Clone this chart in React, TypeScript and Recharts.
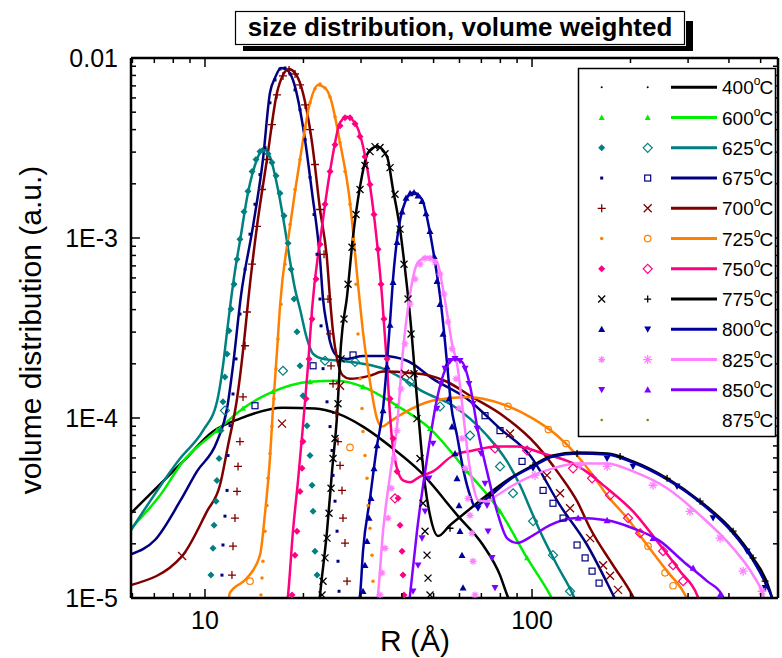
import React from "react";
import { ComposedChart, Line, Scatter, XAxis, YAxis, ReferenceLine } from "recharts";

// plot frame in page pixels
const W = 782;
const H = 658;
const LEFT = 131;
const TOP = 58;
const RIGHT = 778;
const BOTTOM = 598;
const Y_AXIS_W = 60;
const X_AXIS_H = 40;
const FONT = "'Liberation Sans', Arial, Helvetica, sans-serif";

const X_DOMAIN = [5.94, 565];
const Y_DOMAIN = [1e-5, 1e-2];
const xTicks = [6, 7, 8, 9, 10, 20, 30, 40, 50, 60, 70, 80, 90, 100, 200, 300, 400, 500];
const xLabels = [10, 100];
const yTicks = [
  1e-5, 2e-5, 3e-5, 4e-5, 5e-5, 6e-5, 7e-5, 8e-5, 9e-5,
  1e-4, 2e-4, 3e-4, 4e-4, 5e-4, 6e-4, 7e-4, 8e-4, 9e-4,
  1e-3, 2e-3, 3e-3, 4e-3, 5e-3, 6e-3, 7e-3, 8e-3, 9e-3, 1e-2,
];
const yLabels: Record<string, string> = { "0.01": "0.01", "0.001": "1E-3", "0.0001": "1E-4", "0.00001": "1E-5" };

// [R (Å), volume distribution]
const line400 = [[5.94,2.96e-5],[8.57,5.74e-5],[10.58,8.41e-5],[12.79,9.92e-5],[17.32,1.14e-4],[21.7,1.13e-4],[25.34,1.06e-4],[30.42,8.96e-5],[37.58,6.77e-5],[45.44,5.05e-5],[59.4,2.85e-5],[70.8,1.97e-5],[79.8,1.34e-5],[83.9,1.04e-5],[87.5,8.8e-6]];

const line600 = [[5.94,2.44e-5],[7.29,3.72e-5],[8.57,5.74e-5],[10.88,8.51e-5],[13.07,1.13e-4],[16.14,1.4e-4],[20.95,1.59e-4],[25.34,1.61e-4],[30.42,1.49e-4],[38.66,1.17e-4],[48.76,8.73e-5],[63.27,5.05e-5],[79.82,3.03e-5],[96.54,1.67e-5],[113.5,1.04e-5],[117.6,9.2e-6]];
const mark600 = [[10.88,8.51e-5],[13.07,1.13e-4],[16.14,1.4e-4],[20.95,1.59e-4],[30.42,1.49e-4],[38.66,1.17e-4],[48.76,8.73e-5],[63.27,5.05e-5],[79.82,3.03e-5],[96.54,1.67e-5]];

const line625 = [[5.94,2.38e-5],[8.39,5.96e-5],[9.86,8.51e-5],[10.88,1.23e-4],[11.35,1.95e-4],[11.68,3.01e-4],[11.93,4.13e-4],[12.35,6.55e-4],[12.79,9.59e-4],[13.54,1.79e-3],[14.42,2.73e-3],[15.04,3.14e-3],[15.8,2.83e-3],[16.72,1.86e-3],[17.57,1.12e-3],[18.2,7.43e-4],[18.85,5.2e-4],[19.52,4.03e-4],[20.51,2.75e-4],[21.4,2.27e-4],[22.96,2.13e-4],[25.88,2.08e-4],[30.42,2e-4],[35.03,1.88e-4],[40.32,1.65e-4],[46.42,1.4e-4],[57.34,1.17e-4],[72.84,7.99e-5],[83.85,5.74e-5],[91.9,4.23e-5],[100.7,2.88e-5],[105.8,2.35e-5],[119.3,1.52e-5],[133.5,1.04e-5],[137.3,9.2e-6]];
const narrow625 = [[10.43,1.34e-5],[10.58,1.89e-5],[10.66,2.54e-5],[10.81,3.45e-5],[10.88,4.5e-5],[11.04,5.96e-5],[11.19,8.51e-5],[11.35,1.23e-4],[11.51,1.69e-4],[11.68,2.27e-4],[11.84,3.05e-4],[12.01,4.03e-4],[12.27,5.54e-4],[12.53,7.62e-4],[12.79,9.83e-4],[13.16,1.4e-3],[13.54,1.82e-3],[13.93,2.34e-3],[14.32,2.73e-3],[14.73,3.02e-3],[15.15,3.1e-3],[15.58,2.94e-3],[16.02,2.63e-3],[16.49,2.22e-3],[16.96,1.77e-3],[17.44,1.33e-3],[17.95,9.35e-4],[18.33,6.71e-4],[18.72,4.58e-4],[19.11,3.01e-4],[19.52,1.95e-4],[19.94,1.33e-4],[20.51,9.07e-5],[20.95,6.19e-5],[21.25,4.23e-5],[21.4,3.03e-5],[21.7,1.82e-5],[22.01,1.34e-5]];
const broad625 = [[11.51,1.1e-4],[17.32,1.83e-4],[23.28,2.08e-4],[28.76,2.05e-4],[42.36,1.59e-4],[52.32,1.16e-4],[64.62,7.99e-5],[79.82,5.38e-5],[87.48,3.82e-5],[100.7,2.67e-5],[115.9,1.73e-5],[130.7,1.09e-5]];

const line675 = [[5.94,1.75e-5],[7.03,2.1e-5],[8.39,3.45e-5],[9.45,5.05e-5],[10.88,7.4e-5],[11.68,1.13e-4],[12.18,1.95e-4],[12.88,4.76e-4],[14.02,1.16e-3],[15.04,2.73e-3],[15.8,6.4e-3],[16.37,7.75e-3],[17.08,8.8e-3],[17.82,8.58e-3],[18.58,7.55e-3],[19.94,4.15e-3],[21.25,1.79e-3],[22.48,7.62e-4],[22.96,4.58e-4],[23.61,3.25e-4],[24.12,2.65e-4],[25.34,2.21e-4],[27.19,2.13e-4],[30.42,2.21e-4],[35.03,2.21e-4],[41.47,2.08e-4],[49.8,1.65e-4],[63.27,1.28e-4],[79.82,8.73e-5],[98.6,6.19e-5],[121.8,3.27e-5],[147.4,1.97e-5],[176.9,1.04e-5],[181.9,9.4e-6]];
const narrow675 = [[11.27,1.34e-5],[11.35,1.97e-5],[11.51,2.85e-5],[11.68,3.96e-5],[11.76,6.19e-5],[11.93,9.07e-5],[12.18,1.36e-4],[12.44,2.13e-4],[12.79,3.78e-4],[13.26,6.71e-4],[13.73,1.05e-3],[14.22,1.54e-3],[14.73,2.25e-3],[15.26,3.18e-3],[15.8,5.64e-3],[16.37,7.55e-3],[16.96,8.69e-3],[17.57,8.8e-3],[18.2,8.15e-3],[18.85,6.65e-3],[19.52,5.16e-3],[20.23,3.52e-3],[20.95,2.17e-3],[21.55,1.35e-3],[22.01,8.12e-4],[22.48,4.58e-4],[22.64,3.25e-4],[22.96,1.88e-4],[23.61,1.23e-4],[24.12,8.96e-5],[24.46,6.6e-5],[24.63,4.8e-5],[24.98,3.45e-5],[25.34,2.35e-5],[25.51,1.6e-5],[25.7,1.09e-5]];
const broad675 = [[14.22,1.17e-4],[21.4,1.95e-4],[28.36,2.24e-4],[71.82,1.03e-4],[79.82,8.51e-5],[93.2,5.74e-5],[108.1,3.96e-5],[115.9,3.36e-5],[124.4,2.78e-5],[137.3,1.97e-5],[145.3,1.67e-5],[152.6,1.41e-5],[160.3,1.21e-5]];

const line700 = [[5.94,1.18e-5],[8.51,1.71e-5],[10.14,3.03e-5],[11.11,4.23e-5],[11.76,7.03e-5],[12.53,1.28e-4],[13.26,3.01e-4],[13.54,4.4e-4],[14.42,1.16e-3],[15.47,2.73e-3],[16.6,6.4e-3],[17.32,8.05e-3],[18.07,8.69e-3],[18.85,8.25e-3],[19.52,7.27e-3],[21.25,3.38e-3],[22.48,1.44e-3],[23.61,7.62e-4],[24.12,4.58e-4],[24.63,3.01e-4],[25.34,2.13e-4],[26.42,1.72e-4],[27.76,1.65e-4],[31.96,1.72e-4],[35.03,1.81e-4],[42.36,1.78e-4],[48.76,1.72e-4],[54.97,1.59e-4],[64.62,1.33e-4],[81.53,1.03e-4],[103.6,7.03e-5],[121.8,4.8e-5],[137.3,3.45e-5],[150.5,2.44e-5],[176.9,1.52e-5],[202.2,1.04e-5],[208,9.4e-6]];
const narrow700 = [[12.09,1.34e-5],[12.18,1.94e-5],[12.35,2.78e-5],[12.53,3.91e-5],[12.62,5.38e-5],[12.79,7.4e-5],[13.07,1.31e-4],[13.26,2.52e-4],[13.44,3.88e-4],[13.93,7.15e-4],[14.42,1.16e-3],[14.94,1.86e-3],[15.47,2.73e-3],[16.02,4.26e-3],[16.6,6.24e-3],[17.32,7.95e-3],[18.07,8.58e-3],[18.85,8.15e-3],[19.52,7.09e-3],[20.23,5.49e-3],[20.95,4e-3],[21.7,2.56e-3],[22.48,1.44e-3],[23.12,8.12e-4],[23.78,4.58e-4],[24.12,2.93e-4],[24.29,1.95e-4],[24.63,1.55e-4],[25.16,1.06e-4],[25.51,7.4e-5],[25.88,5.45e-5],[26.24,3.96e-5],[26.42,2.78e-5],[26.8,2.02e-5],[27.19,1.24e-5]];
const broad700 = [[8.51,1.71e-5],[17.2,9.31e-5],[25.88,1.51e-4],[40.89,1.76e-4],[85.65,8.2e-5],[111.1,4.8e-5],[121.8,3.82e-5],[130.7,3.15e-5],[150.5,2.15e-5],[164.9,1.52e-5],[173.2,1.33e-5],[183.2,1.11e-5]];

const line725 = [[11.76,9.4e-6],[11.93,1.07e-5],[13.44,1.29e-5],[14.73,1.73e-5],[15.26,2.96e-5],[15.8,5.96e-5],[16.14,1.13e-4],[16.6,2.33e-4],[16.96,4.19e-4],[18.2,1.16e-3],[19.52,2.73e-3],[20.95,5.64e-3],[22.16,7.09e-3],[23.28,6.82e-3],[24.12,6.08e-3],[25.88,3.38e-3],[27.76,1.58e-3],[29.37,5.54e-4],[30.42,3.01e-4],[31.96,1.59e-4],[33.57,9.92e-5],[34.78,8.96e-5],[36.8,9.55e-5],[40.32,1.06e-4],[49.8,1.25e-4],[63.27,1.31e-4],[70.82,1.28e-4],[83.85,1.17e-4],[100.7,9.92e-5],[119.3,7.99e-5],[137.3,6.19e-5],[153.7,4.8e-5],[169.6,3.72e-5],[195.3,2.78e-5],[224.8,1.97e-5],[258.8,1.41e-5],[289.6,1.09e-5],[300,9.7e-6]];
const narrow725 = [[14.83,1.04e-5],[14.94,1.29e-5],[15.04,1.6e-5],[15.26,2.35e-5],[15.47,3.27e-5],[15.58,4.62e-5],[15.8,6.35e-5],[16.02,8.96e-5],[16.25,1.28e-4],[16.49,1.88e-4],[16.72,2.75e-4],[17.08,4.29e-4],[17.57,7.15e-4],[18.2,1.19e-3],[18.85,1.86e-3],[19.52,2.73e-3],[20.23,4.1e-3],[20.95,5.64e-3],[21.7,6.74e-3],[22.48,7.18e-3],[23.28,6.82e-3],[24.12,6.08e-3],[24.98,4.72e-3],[25.88,3.38e-3],[26.8,2.34e-3],[27.76,1.54e-3],[28.36,9.83e-4],[28.96,5.54e-4],[29.37,2.93e-4],[29.79,1.65e-4],[30.21,1.13e-4],[30.42,8.41e-5],[30.85,6.19e-5],[31.29,4.62e-5],[31.51,3.27e-5],[31.96,2.44e-5],[32.41,1.73e-5],[32.64,1.24e-5]];
const broad725 = [[13.73,1.24e-5],[27.76,6.86e-5],[84.45,1.16e-4],[112.2,8.62e-5],[127.1,7.21e-5],[226.3,1.94e-5],[255.1,1.38e-5],[269.9,1.17e-5]];

const line750 = [[17.82,9.2e-6],[17.95,1.04e-5],[18.58,2.35e-5],[19.24,4.45e-5],[19.94,9.07e-5],[20.65,1.95e-4],[21.25,4.03e-4],[22.8,1.16e-3],[24.46,2.73e-3],[25.88,4.37e-3],[27.19,4.72e-3],[29.16,4.15e-3],[31.29,2.49e-3],[33.57,9.47e-4],[34.78,4.76e-4],[36.03,1.95e-4],[36.8,1.03e-4],[37.58,6.77e-5],[38.66,5.25e-5],[40.32,4.5e-5],[42.36,4.39e-5],[45.44,4.73e-5],[49.8,5.05e-5],[57.34,6.19e-5],[66,6.6e-5],[78.16,6.94e-5],[89.98,6.94e-5],[108.1,6.35e-5],[137.3,5.45e-5],[169.6,4.07e-5],[203.6,3.03e-5],[246.3,1.97e-5],[283.5,1.41e-5],[319.6,1.04e-5],[326.4,9.4e-6]];
const narrow750 = [[18.46,1.04e-5],[18.85,1.73e-5],[19.11,2.35e-5],[19.52,3.91e-5],[19.8,5.25e-5],[19.94,7.4e-5],[20.37,1.28e-4],[20.8,2.13e-4],[21.25,3.55e-4],[21.86,5.91e-4],[22.48,9.23e-4],[23.28,1.54e-3],[24.12,2.34e-3],[24.98,3.3e-3],[25.88,4.2e-3],[26.8,4.66e-3],[27.76,4.66e-3],[28.76,4.31e-3],[29.79,3.66e-3],[30.85,2.83e-3],[31.96,1.98e-3],[32.87,1.35e-3],[33.81,8.66e-4],[34.54,5.54e-4],[35.27,3.55e-4],[36.03,2.13e-4],[36.8,1.28e-4],[37.58,7.69e-5],[38.66,5.05e-5],[38.93,3.58e-5],[39.48,2.54e-5],[40.04,1.82e-5],[40.32,1.34e-5],[40.6,1.04e-5]];
const broad750 = [[38.11,3.58e-5],[77.06,6.77e-5],[96.54,6.6e-5],[133.5,5.25e-5],[152.6,4.62e-5],[173.2,3.72e-5],[196.6,2.78e-5],[214,2.29e-5],[251.6,1.82e-5],[269.9,1.52e-5],[289.6,1.24e-5]];

const line775 = [[22.32,9.1e-6],[22.48,1.04e-5],[23.61,2.35e-5],[24.46,5.05e-5],[25.34,1.03e-4],[26.06,2.58e-4],[27.19,4.76e-4],[28.36,1.02e-3],[29.79,1.93e-3],[31.51,2.98e-3],[33.57,3.22e-3],[36.03,2.83e-3],[37.58,1.86e-3],[39.48,1.12e-3],[40.89,6.71e-4],[42.36,3.69e-4],[44.49,1.28e-4],[47.08,4.23e-5],[48.76,2.88e-5],[51.59,2.21e-5],[56.14,2.54e-5],[63.27,3.03e-5],[70.82,3.58e-5],[85.65,4.62e-5],[100.7,5.45e-5],[115.9,6.19e-5],[137.3,6.43e-5],[169.6,6.35e-5],[203.6,5.74e-5],[258.8,4.62e-5],[326.4,3.45e-5],[411.9,2.35e-5],[474.1,1.67e-5],[534.4,1.09e-5],[546,9.4e-6]];
const narrow775 = [[22.8,1.04e-5],[22.96,1.24e-5],[23.28,1.67e-5],[23.61,2.15e-5],[23.95,2.96e-5],[24.29,4.07e-5],[24.63,5.96e-5],[24.98,7.69e-5],[25.51,1.2e-4],[26.06,2.13e-4],[26.61,3.55e-4],[27.38,5.54e-4],[28.16,8.89e-4],[28.96,1.35e-3],[29.79,1.86e-3],[30.85,2.53e-3],[31.96,3.02e-3],[33.1,3.22e-3],[34.29,3.18e-3],[35.52,2.94e-3],[36.8,2.46e-3],[38.11,1.75e-3],[39.48,1.12e-3],[40.6,7.15e-4],[41.77,4.58e-4],[42.66,2.93e-4],[43.57,1.76e-4],[44.49,9.92e-5],[45.44,5.96e-5],[46.42,3.36e-5],[47.08,2.35e-5],[47.75,1.73e-5],[48.08,1.29e-5],[48.76,1.04e-5]];
const broad775 = [[56.14,2.44e-5],[74.4,3.72e-5],[100.7,5.45e-5],[137.3,6.35e-5],[185.9,6.11e-5],[258.8,4.62e-5],[326.4,3.45e-5],[411.9,2.35e-5],[474.1,1.67e-5],[515.9,1.24e-5]];

const line800 = [[29.37,9.4e-6],[29.79,1.04e-5],[30.42,1.82e-5],[31.96,3.58e-5],[33.57,7.03e-5],[35.03,1.13e-4],[36.03,2.05e-4],[36.8,3.42e-4],[37.58,5.91e-4],[38.66,9.83e-4],[40.89,1.58e-3],[43.26,1.79e-3],[46.09,1.64e-3],[48.08,1.22e-3],[50.51,7.34e-4],[52.32,4.76e-4],[54.19,2.65e-4],[55.35,1.76e-4],[56.5,1.2e-4],[58.97,7.99e-5],[61.52,5.25e-5],[64.62,3.72e-5],[66.94,3.23e-5],[72.84,3.58e-5],[85.65,4.56e-5],[100.7,5.38e-5],[115.9,6.11e-5],[137.3,6.35e-5],[169.6,6.27e-5],[203.6,5.66e-5],[258.8,4.56e-5],[326.4,3.4e-5],[411.9,2.29e-5],[474.1,1.62e-5],[534.4,1.07e-5],[553.6,9.2e-6]];
const narrow800 = [[30.42,1.09e-5],[30.85,1.52e-5],[31.29,2.07e-5],[31.74,2.78e-5],[32.19,3.58e-5],[32.87,5.25e-5],[33.57,7.03e-5],[35.03,1.1e-4],[36.03,1.93e-4],[36.8,3.29e-4],[37.58,5.69e-4],[38.66,9.47e-4],[40.04,1.4e-3],[41.18,1.67e-3],[42.36,1.77e-3],[43.57,1.79e-3],[44.81,1.72e-3],[46.09,1.6e-3],[47.41,1.37e-3],[48.76,1.09e-3],[50.16,7.92e-4],[51.23,5.76e-4],[52.32,4.29e-4],[53.43,2.93e-4],[54.58,1.93e-4],[55.74,1.28e-4],[56.94,8.96e-5],[58.15,6.35e-5],[58.97,4.62e-5],[59.81,3.27e-5],[60.23,2.35e-5],[61.08,1.73e-5],[61.52,1.14e-5]];
const broad800 = [[68.37,3.15e-5],[100.7,5.25e-5],[169.6,5.96e-5],[203.6,5.38e-5],[277.5,4.17e-5],[357.7,2.78e-5],[454.5,1.82e-5],[515.9,1.14e-5]];

const line825 = [[33.57,9.2e-6],[33.81,1.04e-5],[35.03,2.35e-5],[36.8,4.8e-5],[38.66,9.07e-5],[40.32,2.37e-4],[42.36,4.88e-4],[44.81,7.34e-4],[47.75,7.82e-4],[51.23,7.34e-4],[53.43,5.2e-4],[55.35,3.55e-4],[56.94,2.58e-4],[58.97,2e-4],[61.52,1.08e-4],[63.72,6.19e-5],[66,4.23e-5],[68.37,3.49e-5],[72.84,3.45e-5],[78.16,3.72e-5],[87.48,4.23e-5],[100.7,4.8e-5],[115.9,5.25e-5],[137.3,5.59e-5],[169.6,5.59e-5],[203.6,5.05e-5],[258.8,4.07e-5],[326.4,2.88e-5],[411.9,1.89e-5],[474.1,1.34e-5],[508.6,1.04e-5],[515.9,9.4e-6]];
const narrow825 = [[34.29,1.04e-5],[34.78,1.38e-5],[35.52,1.89e-5],[36.29,2.78e-5],[37.06,4.07e-5],[37.84,5.96e-5],[38.66,8.51e-5],[39.76,1.45e-4],[40.89,2.58e-4],[42.36,4.29e-4],[43.88,5.91e-4],[45.44,7.15e-4],[47.08,7.72e-4],[48.76,7.72e-4],[50.51,7.34e-4],[52.32,6.3e-4],[53.8,4.88e-4],[55.35,3.42e-4],[56.94,2.42e-4],[58.56,1.65e-4],[59.81,1.13e-4],[61.08,7.69e-5],[62.39,5.25e-5],[63.72,3.58e-5],[64.62,2.88e-5],[65.53,2.29e-5],[66,1.6e-5],[66.94,1.04e-5]];
const broad825 = [[102.1,4.8e-5],[140.3,5.45e-5],[169.6,5.38e-5],[234.4,4.23e-5],[304.2,3.03e-5],[375.8,2.15e-5],[441.9,1.41e-5],[505.1,1.09e-5]];

const line850 = [[42.07,9.2e-6],[42.36,1.04e-5],[44.49,2.35e-5],[47.75,5.96e-5],[51.23,1.28e-4],[54.97,1.95e-4],[58.15,2.13e-4],[61.08,2.05e-4],[64.62,1.51e-4],[68.37,8.41e-5],[72.84,5.05e-5],[78.16,3.03e-5],[83.85,2.15e-5],[89.98,2.02e-5],[100.7,2.23e-5],[113.5,2.54e-5],[137.3,2.78e-5],[169.6,2.7e-5],[203.6,2.44e-5],[246.3,2.07e-5],[289.6,1.6e-5],[343,1.24e-5],[381.1,1.04e-5],[389.2,9.4e-6]];
const narrow850 = [[43.26,1.09e-5],[44.81,1.52e-5],[46.09,2.15e-5],[47.08,3.03e-5],[48.42,4.62e-5],[49.8,7.21e-5],[51.23,1.13e-4],[52.69,1.55e-4],[54.19,1.88e-4],[56.14,2.08e-4],[58.15,2.13e-4],[60.23,2.08e-4],[62.39,1.88e-4],[64.17,1.55e-4],[66,1.2e-4],[67.89,8.73e-5],[69.83,6.35e-5],[71.82,4.33e-5],[72.84,3.27e-5],[73.35,2.35e-5],[75.45,1.67e-5],[77.06,1.14e-5]];
const broad850 = [[138.3,2.78e-5],[169.6,2.7e-5],[234.4,2.15e-5],[310.8,1.47e-5],[375.8,1.04e-5]];

type Kind = "dot" | "diamond" | "diamondOpen" | "square" | "squareOpen" | "plus" | "cross" | "circleOpen" | "triUp" | "triDown" | "star";

interface Series {
  t: string;
  c: string;
  line: number[][] | null;
  a: number[][] | null;
  b: number[][] | null;
  ka: Kind;
  sa: number;
  kb: Kind;
  sb: number;
}

const SERIES: Series[] = [
  { t: "400", c: "#000000", line: line400, a: null, b: null, ka: "dot", sa: 2, kb: "dot", sb: 2 },
  { t: "600", c: "#00ee00", line: line600, a: mark600, b: null, ka: "triUp", sa: 6, kb: "triUp", sb: 6 },
  { t: "625", c: "#008080", line: line625, a: narrow625, b: broad625, ka: "diamond", sa: 7, kb: "diamondOpen", sb: 9 },
  { t: "675", c: "#000080", line: line675, a: narrow675, b: broad675, ka: "square", sa: 3, kb: "squareOpen", sb: 6 },
  { t: "700", c: "#800000", line: line700, a: narrow700, b: broad700, ka: "plus", sa: 8, kb: "cross", sb: 8 },
  { t: "725", c: "#ff8000", line: line725, a: narrow725, b: broad725, ka: "dot", sa: 3.5, kb: "circleOpen", sb: 6.5 },
  { t: "750", c: "#ff0080", line: line750, a: narrow750, b: broad750, ka: "diamond", sa: 7, kb: "diamondOpen", sb: 9 },
  { t: "775", c: "#000000", line: line775, a: narrow775, b: broad775, ka: "cross", sa: 7, kb: "plus", sb: 7 },
  { t: "800", c: "#0000a0", line: line800, a: narrow800, b: broad800, ka: "triUp", sa: 7, kb: "triDown", sb: 7 },
  { t: "825", c: "#ff80ff", line: line825, a: narrow825, b: broad825, ka: "star", sa: 7, kb: "star", sb: 9 },
  { t: "850", c: "#8000ff", line: line850, a: narrow850, b: broad850, ka: "triDown", sa: 7, kb: "triUp", sb: 7 },
  { t: "875", c: "#808000", line: null, a: null, b: null, ka: "dot", sa: 2.5, kb: "dot", sb: 2.5 },
];

const pts = (a: number[][]) => a.map(([r, v]) => ({ r, v }));

function Mark({ kind, x, y, c, s }: { kind: Kind; x: number; y: number; c: string; s: number }) {
  if (x == null || y == null) return null;
  const h = s / 2;
  switch (kind) {
    case "dot":
      return <circle cx={x} cy={y} r={h} fill={c} />;
    case "diamond":
      return <polygon points={`${x},${y - h} ${x + h},${y} ${x},${y + h} ${x - h},${y}`} fill={c} />;
    case "diamondOpen":
      return <polygon points={`${x},${y - h} ${x + h},${y} ${x},${y + h} ${x - h},${y}`} fill="none" stroke={c} strokeWidth={1.2} />;
    case "square":
      return <rect x={x - h} y={y - h} width={s} height={s} fill={c} />;
    case "squareOpen":
      return <rect x={x - h} y={y - h} width={s} height={s} fill="none" stroke={c} strokeWidth={1.2} />;
    case "circleOpen":
      return <circle cx={x} cy={y} r={h} fill="none" stroke={c} strokeWidth={1.2} />;
    case "plus":
      return <path d={`M${x - h},${y}H${x + h}M${x},${y - h}V${y + h}`} stroke={c} strokeWidth={1.3} />;
    case "cross":
      return <path d={`M${x - h},${y - h}L${x + h},${y + h}M${x - h},${y + h}L${x + h},${y - h}`} stroke={c} strokeWidth={1.3} />;
    case "triUp":
      return <polygon points={`${x},${y - h} ${x + h},${y + h * 0.8} ${x - h},${y + h * 0.8}`} fill={c} />;
    case "triDown":
      return <polygon points={`${x},${y + h} ${x + h},${y - h * 0.8} ${x - h},${y - h * 0.8}`} fill={c} />;
    case "star":
      return (
        <path
          d={`M${x - h},${y}H${x + h}M${x},${y - h}V${y + h}M${x - h * 0.7},${y - h * 0.7}L${x + h * 0.7},${y + h * 0.7}M${x - h * 0.7},${y + h * 0.7}L${x + h * 0.7},${y - h * 0.7}`}
          stroke={c}
          strokeWidth={1.3}
        />
      );
    default:
      return null;
  }
}

// bottom axis tick, mirrored onto the top edge; ticks point inwards
const XTick = (p: any) => {
  const { x, payload } = p;
  const v = payload.value;
  const major = xLabels.includes(v);
  const len = major ? 9 : 5;
  return (
    <g>
      <line x1={x} x2={x} y1={BOTTOM} y2={BOTTOM - len} stroke="#000" strokeWidth={1.5} />
      <line x1={x} x2={x} y1={TOP} y2={TOP + len} stroke="#000" strokeWidth={1.5} />
      {major && (
        <text x={x} y={BOTTOM + 31} textAnchor="middle" fontSize={25} fontFamily={FONT} fill="#000">
          {v}
        </text>
      )}
    </g>
  );
};

// left axis tick, mirrored onto the right edge
const YTick = (p: any) => {
  const { y, payload } = p;
  const lab = yLabels[String(payload.value)];
  const len = lab ? 9 : 5;
  return (
    <g>
      <line x1={LEFT} x2={LEFT + len} y1={y} y2={y} stroke="#000" strokeWidth={1.5} />
      <line x1={RIGHT} x2={RIGHT - len} y1={y} y2={y} stroke="#000" strokeWidth={1.5} />
      {lab && (
        <text x={LEFT - 13} y={y + 9} textAnchor="end" fontSize={25} fontFamily={FONT} fill="#000">
          {lab}
        </text>
      )}
    </g>
  );
};

function Overlay() {
  const rowY = (i: number) => 87.3 + i * 30.25;
  return (
    <svg width={W} height={H} style={{ position: "absolute", left: 0, top: 0, pointerEvents: "none" }}>
      {/* title box with offset shadow */}
      <rect x={243} y={21} width={450} height={30} fill="#000" />
      <rect x={233} y={9} width={453} height={37} fill="#fff" />
      <rect x={235.5} y={11.5} width={449} height={33} fill="#fff" stroke="#000" strokeWidth={1.2} />
      <text x={460} y={36} textAnchor="middle" fontSize={26} fontWeight="bold" fontFamily={FONT} fill="#000">
        size distribution, volume weighted
      </text>

      {/* axis titles */}
      <text x={415} y={651} textAnchor="middle" fontSize={30} fontFamily={FONT} fill="#000">
        R (Å)
      </text>
      <text x={41} y={330} textAnchor="middle" fontSize={30} fontFamily={FONT} fill="#000" transform="rotate(-90 41 330)">
        volume distribution (a.u.)
      </text>

      {/* legend */}
      <rect x={578.5} y={68.5} width={197} height={368} fill="#fff" stroke="#000" strokeWidth={1.5} />
      {SERIES.map((s, i) => {
        const y = rowY(i);
        return (
          <g key={s.t}>
            <Mark kind={s.ka} x={601.7} y={y} c={s.c} s={s.sa} />
            <Mark kind={s.kb} x={647.7} y={y} c={s.c} s={s.sb} />
            {s.line && <line x1={671} x2={717} y1={y} y2={y} stroke={s.c} strokeWidth={3} />}
            <text x={722} y={y + 7} fontSize={19} fontFamily={FONT} fill="#000">
              {s.t}
              <tspan fontSize={12} dy={-9}>o</tspan>
              <tspan fontSize={19} dy={9} dx={-1}>C</tspan>
            </text>
          </g>
        );
      })}
    </svg>
  );
}

export default function App() {
  const items: React.ReactNode[] = [];
  SERIES.forEach((s) => {
    if (s.line) {
      items.push(
        <Line
          key={`l${s.t}`}
          data={pts(s.line)}
          dataKey="v"
          type="monotone"
          stroke={s.c}
          strokeWidth={2.5}
          dot={false}
          activeDot={false}
          isAnimationActive={false}
        />
      );
    }
    if (s.a) {
      items.push(
        <Scatter
          key={`a${s.t}`}
          data={pts(s.a)}
          dataKey="v"
          isAnimationActive={false}
          shape={(p: any) => <Mark kind={s.ka} x={p.cx} y={p.cy} c={s.c} s={s.sa} />}
        />
      );
    }
    if (s.b) {
      items.push(
        <Scatter
          key={`b${s.t}`}
          data={pts(s.b)}
          dataKey="v"
          isAnimationActive={false}
          shape={(p: any) => <Mark kind={s.kb} x={p.cx} y={p.cy} c={s.c} s={s.sb} />}
        />
      );
    }
  });

  return (
    <div style={{ position: "absolute", left: 0, top: 0, width: W, height: H, background: "#fff", fontFamily: FONT }}>
      <ComposedChart
        width={W}
        height={H}
        margin={{ top: TOP, right: W - RIGHT, bottom: H - BOTTOM - X_AXIS_H, left: LEFT - Y_AXIS_W }}
      >
        <XAxis
          type="number"
          dataKey="r"
          scale="log"
          domain={X_DOMAIN}
          allowDataOverflow
          ticks={xTicks}
          interval={0}
          height={X_AXIS_H}
          tickLine={false}
          tickSize={0}
          tickMargin={0}
          tick={(p: any) => <XTick {...p} />}
          axisLine={{ stroke: "#000", strokeWidth: 2.5 }}
        />
        <YAxis
          type="number"
          dataKey="v"
          scale="log"
          domain={Y_DOMAIN}
          allowDataOverflow
          ticks={yTicks}
          interval={0}
          width={Y_AXIS_W}
          tickLine={false}
          tickSize={0}
          tickMargin={0}
          tick={(p: any) => <YTick {...p} />}
          axisLine={{ stroke: "#000", strokeWidth: 2.5 }}
        />
        <ReferenceLine y={Y_DOMAIN[1]} stroke="#000" strokeWidth={2.5} ifOverflow="visible" />
        <ReferenceLine x={X_DOMAIN[1]} stroke="#000" strokeWidth={2.5} ifOverflow="visible" />
        {items}
      </ComposedChart>
      <Overlay />
    </div>
  );
}
